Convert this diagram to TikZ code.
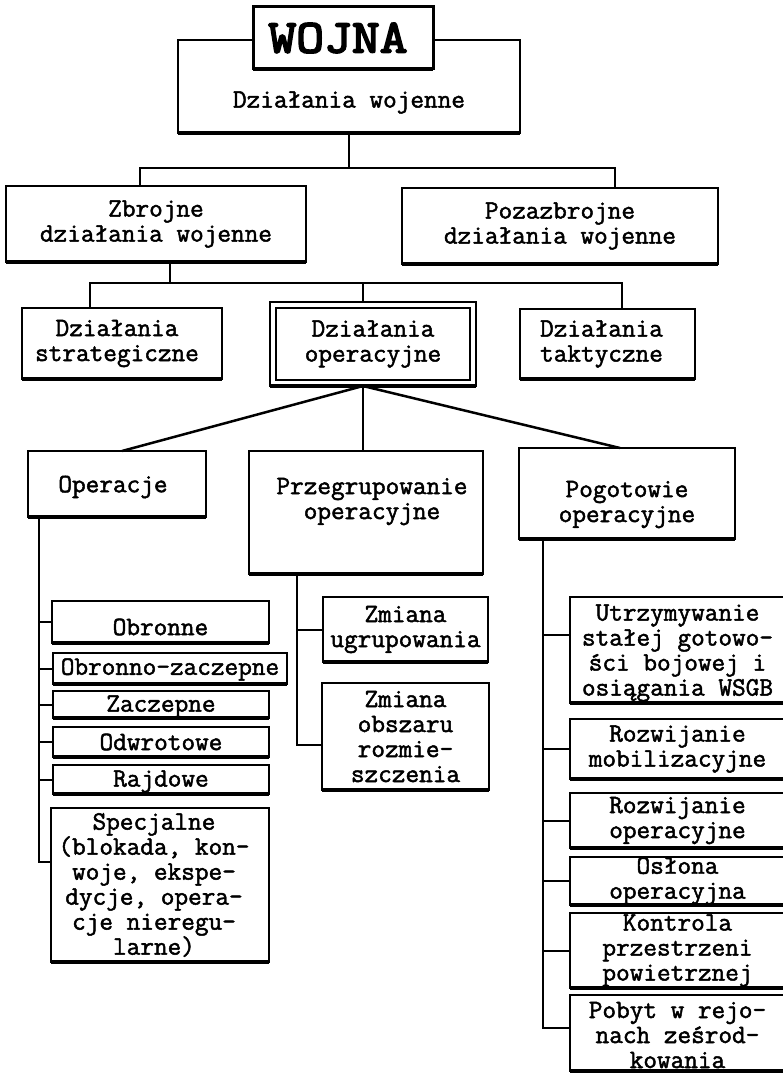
\documentclass[tikz,border=0pt]{standalone}
\usepackage{fontspec}
\setmonofont[FakeBold=1.8]{Latin Modern Mono}
\newfontfamily\wojnafont[FakeBold=4,FakeStretch=1.15]{Latin Modern Mono}
\tikzset{
  bxs/.style={draw, line width=2pt, fill=white, inner sep=0pt, outer sep=0pt},
  bot/.style={line width=4pt},
  txt/.style={font=\ttfamily\fontsize{26.5}{25}\selectfont, align=center, inner sep=0pt},
  ln/.style={line width=2pt},
  diag/.style={line width=2.5pt},
}
\newcommand\bx[7]{%
  \node[bxs, minimum width={(#4-#2)*1pt}, minimum height={(#5-#3)*1pt}] (#1) at ({(#2+#4)/2},{(#3+#5)/2}) {};
  \draw[bot] (#1.south west) -- (#1.south east);
  \node[txt,#6] (#1-t) at (#1.center) {#7};
}
\begin{document}
\begin{tikzpicture}[x=1pt,y=-1pt]
\useasboundingbox[fill=white] (0,0) rectangle (782,1073);
% level 1
\bx{dw}{178}{40}{520}{133}{yshift=-16pt}{Działania wojenne}
\node[bxs, line width=3pt, minimum width=180pt, minimum height=62pt] (wojna) at (343,38) {};
\draw[line width=4.5pt] (wojna.south west) -- (wojna.south east);
\node[font=\wojnafont\fontsize{47}{47}\selectfont, inner sep=0pt, xshift=-5pt] (wojna-t) at (wojna.center) {WOJNA};
% level 2
\bx{zb}{6}{186}{306}{262}{}{Zbrojne\\działania wojenne}
\bx{pz}{402}{188}{718}{264}{}{Pozazbrojne\\działania wojenne}
% level 3
\bx{st}{22}{308}{222}{379}{xshift=-5pt}{Działania\\strategiczne}
\node[bxs, minimum width=206pt, minimum height=84pt] (opo) at (373,344) {};
\draw[bot] (opo.south west) -- (opo.south east);
\node[bxs, line width=2.5pt, minimum width=194pt, minimum height=72pt] (op) at (373,344) {};
\node[txt] (op-t) at (op.center) {Działania\\operacyjne};
\bx{tk}{520}{309}{695}{379}{xshift=-6pt}{Działania\\taktyczne}
% level 4
\bx{oc}{28}{451}{206}{517}{yshift=-3pt,xshift=-4pt}{Operacje}
\bx{pr}{249}{451}{483}{574}{yshift=11pt,xshift=6pt}{Przegrupowanie\\operacyjne}
\bx{pg}{519}{448}{735}{539}{yshift=-11pt}{Pogotowie\\operacyjne}
% level 5 left
\bx{ob}{52}{601}{269}{643}{yshift=-5pt}{Obronne}
\bx{oz}{53}{653}{287}{684}{yshift=-1pt}{Obronno-zaczepne}
\bx{za}{53}{691}{269}{718}{yshift=-2pt}{Zaczepne}
\bx{od}{53}{727}{269}{757}{}{Odwrotowe}
\bx{ra}{53}{765}{269}{794}{yshift=-2pt}{Rajdowe}
\bx{sp}{51}{808}{269}{962}{xshift=-6pt}{Specjalne\\(blokada, kon-\\woje, ekspe-\\dycje, opera-\\cje nieregu-\\larne)}
% level 5 middle
\bx{zu}{323}{597}{488}{662}{}{Zmiana\\ugrupowania}
\bx{zo}{322}{683}{489}{790}{}{Zmiana\\obszaru\\rozmie-\\szczenia}
% level 5 right
\bx{ut}{570}{597}{785}{703}{yshift=-3pt}{Utrzymywanie\\stałej gotowo-\\ści bojowej i\\osiągania WSGB}
\bx{rm}{570}{719}{785}{779}{}{Rozwijanie\\mobilizacyjne}
\bx{ro}{570}{793}{785}{848}{}{Rozwijanie\\operacyjne}
\bx{os}{570}{857}{785}{905}{}{Osłona\\operacyjna}
\bx{ko}{570}{913}{785}{988}{}{Kontrola\\przestrzeni\\powietrznej}
\bx{pb}{570}{995}{785}{1071}{yshift=-2pt}{Pobyt w rejo-\\nach ześrod-\\kowania}
% connectors level 1-2
\coordinate (j1l) at (140,168);
\coordinate (j1r) at (615,168);
\draw[ln] (dw.south) -- (dw.south |- j1l);
\draw[ln] (zb.north -| j1l) -- (j1l) -- (j1r) -- (pz.north -| j1r);
% level 2-3
\coordinate (j2) at (170,283);
\coordinate (j2l) at (90,283);
\coordinate (j2r) at (622,283);
\coordinate (j2m) at (363,283);
\draw[ln] (zb.south -| j2) -- (j2);
\draw[ln] (st.north -| j2l) -- (j2l) -- (j2r) -- (tk.north -| j2r);
\draw[ln] (opo.north -| j2m) -- (j2m);
% level 3-4
\coordinate (ap) at (opo.south -| j2m);
\draw[diag] (ap) -- ([xshift=5pt]oc.north);
\draw[diag] (ap) -- (pr.north -| ap);
\draw[diag] (ap) -- ([xshift=-7pt]pg.north);
% left column
\coordinate (s1) at (39,862);
\draw[ln] (oc.south -| s1) -- (s1) -- (sp.west |- s1);
\foreach \n in {ob,oz,za,od,ra} \draw[ln] (\n.west) -- (\n.west -| s1);
% middle column
\coordinate (s2) at (297,745);
\draw[ln] (pr.south -| s2) -- (s2) -- (zo.west |- s2);
\draw[ln] (zu.west) -- (zu.west -| s2);
% right column
\coordinate (s3) at (543,1028);
\draw[ln] (pg.south -| s3) -- (s3) -- (pb.west |- s3);
\draw[ln] ([yshift=15pt]ut.west) -- ([yshift=15pt]ut.west -| s3);
\foreach \n in {rm,ro,os,ko} \draw[ln] (\n.west) -- (\n.west -| s3);
\end{tikzpicture}
\end{document}
